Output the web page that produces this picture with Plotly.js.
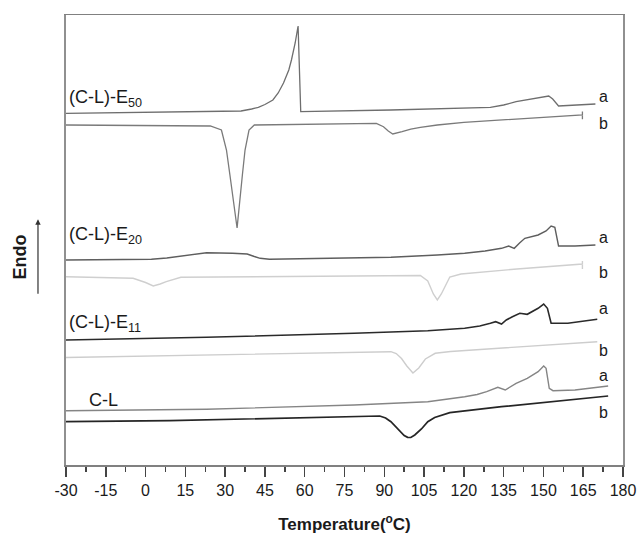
<!DOCTYPE html>
<html><head><meta charset="utf-8">
<script src="https://cdn.plot.ly/plotly-3.0.1.min.js"></script>
<style>html,body{margin:0;padding:0;background:#fff;}#chart{width:638px;height:539px;}</style>
</head><body><div id="chart"></div>
<script>
// Temperature (°C) and relative heat flow (endo up, arbitrary units incl. offset)
const e50aT = [-30, 30, 36, 40, 42.5, 45, 48, 50, 52, 54, 55, 56.4, 57.5, 58.5, 92.5, 130, 135, 139.7, 145, 149.4, 152, 153.5, 155.7, 169.6];
const e50aH = [351.7, 353.3, 354, 356, 357.7, 360.5, 365, 372, 382, 395, 405, 422, 439, 353.3, 355, 357.7, 360, 363.3, 365.5, 367.7, 369, 366, 359, 361];
const e50bT = [-30, 24.4, 28.6, 30.5, 31.8, 34.5, 36.5, 37.5, 39, 41, 87, 89.7, 91.5, 93.2, 96.7, 100, 103.6, 110, 120, 140, 164.7, 164.7, 164.7];
const e50bH = [340, 339, 335, 315, 290, 237, 290, 315, 335, 340, 341.7, 338.3, 334, 331, 333.3, 335.8, 337.7, 340, 342.7, 346, 350, 353.5, 345.7];
const e20aT = [-30, 2.2, 8, 13.3, 18, 23, 32.8, 38.3, 41, 43.2, 46.7, 92.5, 110, 120.3, 128, 134.2, 136.9, 139, 141, 143, 148, 151, 152.9, 154.3, 155.7, 161.9, 169.6];
const e20aH = [205, 205.7, 207, 209, 211, 212.3, 211.7, 211, 208.5, 206.7, 205.7, 207.7, 210, 211.7, 214, 216.7, 219, 216.7, 222, 226.7, 230, 234, 239, 237.7, 219, 219, 220];
const e20bT = [-30, -4.7, 0, 2.9, 5.5, 7.8, 13.3, 103.6, 106.4, 108.5, 110, 111.5, 114.7, 118.9, 140, 164.7, 164.7, 164.7];
const e20bH = [188.3, 186.7, 182.5, 179, 181, 183.3, 187.7, 189.5, 184, 171, 165, 171, 188, 191, 196, 201, 204, 196];
const e11aT = [-30, 23, 78.6, 106.4, 120.3, 126, 130, 132, 134.2, 136, 138.3, 141.1, 143.9, 146, 148, 150.1, 151.5, 152.9, 159.2, 170.3];
const e11aH = [125, 127.7, 131.7, 134.3, 136.7, 139, 141.7, 143.3, 141, 145, 148.3, 151.7, 150.7, 153.5, 156.7, 161, 156.7, 141.7, 141.7, 145.7];
const e11bT = [-30, 92.5, 94.5, 96.5, 98.5, 100.8, 103, 105.5, 109.2, 115, 170.3];
const e11bH = [107.5, 113.3, 111.5, 106.5, 99, 92, 97, 106, 111.7, 113.5, 123.3];
const claT = [-30, 23, 78.6, 106.4, 120.3, 125, 128.6, 132.8, 135.6, 139.7, 143.9, 148, 150.1, 151, 152.2, 153.6, 161.9, 174.4];
const claH = [54.3, 55.7, 60, 63.3, 68.3, 70.5, 73.3, 77.7, 75, 81.7, 86.7, 93.3, 99, 96.7, 76.7, 74.3, 75, 79];
const clbT = [-30, 9.2, 88.3, 90.5, 92.5, 94.5, 96, 97.5, 98.8, 100, 101.5, 104, 106.4, 109, 114.7, 134.2, 174.4];
const clbH = [43.3, 44.3, 49, 47, 43.3, 38, 33.3, 29.5, 27.7, 27.5, 30, 36, 43.3, 47.5, 52.3, 58.3, 69];

// Sample labels
const sampleNames = ['(C-L)-E<sub>50</sub>', '(C-L)-E<sub>20</sub>', '(C-L)-E<sub>11</sub>', 'C-L'];
const sampleNameT = [-29.5, -29.5, -29.5, -22];
const sampleNameH = [367, 230, 142, 65];
const abText = ['a', 'b', 'a', 'b', 'a', 'b', 'a', 'b'];
const abT = [172.5, 172.5, 172.5, 172.5, 172.5, 172.5, 172.5, 172.5];
const abH = [369, 342, 228, 193, 157, 115, 90, 53];

const xTickVals = [-30, -15, 0, 15, 30, 45, 60, 75, 90, 105, 120, 135, 150, 165, 180];

function tr(x, y, color, width) {
  return {x: x, y: y, type: 'scatter', mode: 'lines', line: {color: color, width: width}, hoverinfo: 'skip', showlegend: false};
}
const data = [
  tr(e50aT, e50aH, '#6e6e6e', 1.3),
  tr(e50bT, e50bH, '#7a7a7a', 1.3),
  tr(e20aT, e20aH, '#5e5e5e', 1.4),
  tr(e20bT, e20bH, '#cfcfcf', 1.4),
  tr(e11aT, e11aH, '#2a2a2a', 1.6),
  tr(e11bT, e11bH, '#cdcdcd', 1.4),
  tr(claT, claH, '#858585', 1.4),
  tr(clbT, clbH, '#252525', 1.7)
];

const FONT = 'Liberation Sans, Arial, sans-serif';
const annotations = [];
for (let i = 0; i < sampleNames.length; i++) {
  annotations.push({x: sampleNameT[i], y: sampleNameH[i], xref: 'x', yref: 'y', text: sampleNames[i], showarrow: false, xanchor: 'left', yanchor: 'middle', font: {family: FONT, size: 18, color: '#1a1a1a'}});
}
for (let i = 0; i < abText.length; i++) {
  annotations.push({x: abT[i], y: abH[i], xref: 'x', yref: 'y', text: abText[i], showarrow: false, xanchor: 'center', yanchor: 'middle', font: {family: FONT, size: 16, color: '#1a1a1a'}});
}
// Endo label and arrow
annotations.push({x: -0.082, y: 0.462, xref: 'paper', yref: 'paper', text: '<b>Endo</b>', textangle: -90, showarrow: false, xanchor: 'center', yanchor: 'middle', font: {family: FONT, size: 18, color: '#1a1a1a'}});
annotations.push({x: -0.0503, y: 0.546, xref: 'paper', yref: 'paper', text: '', showarrow: true, ax: 0, ay: 76, arrowhead: 2, arrowsize: 0.9, arrowwidth: 1.2, arrowcolor: '#333'});

const layout = {
  width: 638, height: 539,
  margin: {l: 66, r: 15, t: 15, b: 74},
  paper_bgcolor: '#fff', plot_bgcolor: '#fff',
  showlegend: false,
  xaxis: {
    range: [-30, 180], tickvals: xTickVals, ticktext: xTickVals.map(String),
    ticks: 'outside', ticklen: 10, tickwidth: 1.5, tickcolor: '#444',
    minor: {dtick: 7.5, tick0: -30, ticks: 'outside', ticklen: 5, tickwidth: 1.5, tickcolor: '#444', showgrid: false},
    showgrid: false, zeroline: false, showline: true, mirror: true, linecolor: '#808080', linewidth: 1.5,
    tickfont: {family: FONT, size: 16, color: '#1a1a1a'}, automargin: false,
    title: {text: '<b>Temperature(<sup>o</sup>C)</b>', font: {family: FONT, size: 17, color: '#1a1a1a'}, standoff: 20}
  },
  yaxis: {
    range: [0, 450], showticklabels: false, ticks: '', showgrid: false, zeroline: false,
    showline: true, mirror: true, linecolor: '#909090', linewidth: 1.8, automargin: false
  },
  annotations: annotations
};
Plotly.newPlot('chart', data, layout, {displayModeBar: false, staticPlot: true});
</script></body></html>
